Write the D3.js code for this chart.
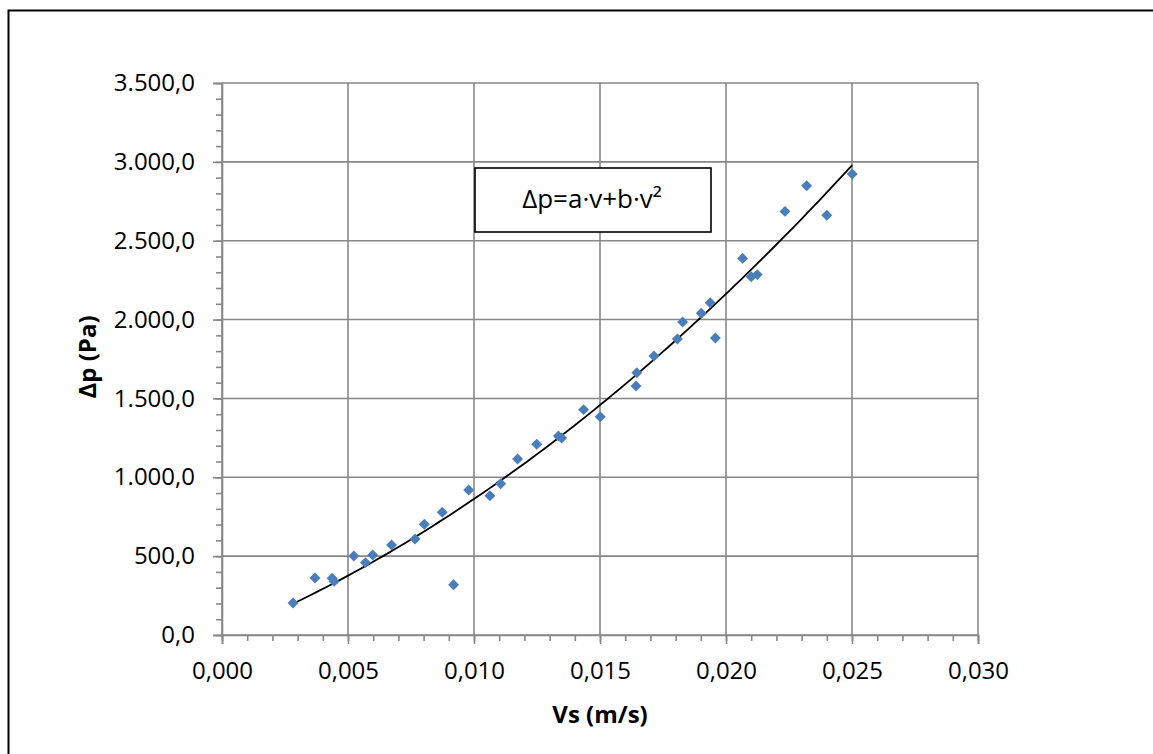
<!DOCTYPE html>
<html>
<head>
<meta charset="utf-8">
<script src="https://cdn.jsdelivr.net/npm/d3@7"></script>
<style>
  body { margin: 0; background: #fff; }
  svg { display: block; }
  text { font-family: "Open Sans", sans-serif; fill: #000; }
</style>
</head>
<body>
<svg id="chart" width="1153" height="754"></svg>
<script>
// measured superficial velocity (m/s) and pressure drop (Pa)
var vs = [0.00282, 0.00369, 0.00437, 0.00445, 0.00523, 0.00569, 0.00598, 0.00673,
          0.00766, 0.00803, 0.00874, 0.00919, 0.00979, 0.01063, 0.01106, 0.01173,
          0.01249, 0.01335, 0.01348, 0.01435, 0.01501, 0.01643, 0.01646, 0.01714,
          0.01807, 0.01828, 0.01902, 0.01937, 0.01958, 0.02066, 0.02100, 0.02124,
          0.02234, 0.02320, 0.02400, 0.02501];
var dp = [203, 361, 360, 340, 501, 459, 507, 571,
          609, 702, 778, 319, 919, 883, 959, 1116,
          1209, 1262, 1249, 1429, 1384, 1579, 1663, 1769,
          1877, 1985, 2040, 2107, 1883, 2388, 2272, 2285,
          2686, 2849, 2661, 2923];

var xTicks = [0, 0.005, 0.010, 0.015, 0.020, 0.025, 0.030];
var yTicks = [0, 500, 1000, 1500, 2000, 2500, 3000, 3500];
var xTitle = "Vs (m/s)";
var yTitle = "\u0394p (Pa)";
var fitLabel = "\u0394p=a\u00b7v+b\u00b7v\u00b2";

var plotL = 222, plotR = 978, plotT = 83, plotB = 635;
var grid = "#878787";

var svg = d3.select("#chart");

// outer chart border
svg.append("rect")
    .attr("x", 8.5).attr("y", 10.5)
    .attr("width", 1160).attr("height", 760)
    .attr("fill", "none").attr("stroke", "#000").attr("stroke-width", 2);

var x = d3.scaleLinear().domain([0, 0.030]).range([plotL, plotR]);
var y = d3.scaleLinear().domain([0, 3500]).range([plotB, plotT]);

var fmtX = function(d) { return d3.format(".3f")(d).replace(".", ","); };
var fmtY = function(d) {
    return d3.format(",.1f")(d).replace(/,/g, " ").replace(".", ",").replace(/ /g, ".");
};

// gridlines
svg.append("g").selectAll("line").data(xTicks).enter().append("line")
    .attr("x1", function(d) { return x(d); }).attr("x2", function(d) { return x(d); })
    .attr("y1", plotT).attr("y2", plotB)
    .attr("stroke", grid).attr("stroke-width", 1.6);
svg.append("g").selectAll("line").data(yTicks).enter().append("line")
    .attr("x1", plotL).attr("x2", plotR)
    .attr("y1", function(d) { return y(d); }).attr("y2", function(d) { return y(d); })
    .attr("stroke", grid).attr("stroke-width", 1.6);

// axes with minor ticks
var xAxis = svg.append("g").attr("transform", "translate(0," + plotB + ")");
xAxis.call(d3.axisBottom(x).tickValues(d3.range(0, 31).map(function(i) { return i / 1000; }))
    .tickSize(6).tickFormat(""));
xAxis.call(function(g) {
    g.select(".domain").remove();
    g.selectAll("line").attr("stroke", grid).attr("stroke-width", 1.6);
});
var xMajor = svg.append("g").attr("transform", "translate(0," + plotB + ")")
    .call(d3.axisBottom(x).tickValues(xTicks).tickSize(9).tickPadding(18).tickFormat(fmtX));
xMajor.select(".domain").attr("stroke", grid).attr("stroke-width", 1.6);
xMajor.selectAll("line").attr("stroke", grid).attr("stroke-width", 1.6);
xMajor.selectAll("text").style("font-size", "24px").attr("fill", "#000");

var yAxis = svg.append("g").attr("transform", "translate(" + plotL + ",0)");
yAxis.call(d3.axisLeft(y).tickValues(d3.range(0, 3501, 100)).tickSize(6).tickFormat(""));
yAxis.call(function(g) {
    g.select(".domain").remove();
    g.selectAll("line").attr("stroke", grid).attr("stroke-width", 1.6);
});
var yMajor = svg.append("g").attr("transform", "translate(" + plotL + ",0)")
    .call(d3.axisLeft(y).tickValues(yTicks).tickSize(9).tickPadding(18).tickFormat(fmtY));
yMajor.select(".domain").attr("stroke", grid).attr("stroke-width", 1.6);
yMajor.selectAll("line").attr("stroke", grid).attr("stroke-width", 1.6);
yMajor.selectAll("text").style("font-size", "24px").attr("fill", "#000");

// trendline p = a*v + b*v^2 (least squares through origin)
var s11 = d3.sum(vs, function(v) { return v * v; });
var s12 = d3.sum(vs, function(v) { return v * v * v; });
var s22 = d3.sum(vs, function(v) { return v * v * v * v; });
var t1 = d3.sum(vs, function(v, i) { return v * dp[i]; });
var t2 = d3.sum(vs, function(v, i) { return v * v * dp[i]; });
var det = s11 * s22 - s12 * s12;
var a = (t1 * s22 - t2 * s12) / det;
var b = (s11 * t2 - s12 * t1) / det;

var vMin = d3.min(vs), vMax = d3.max(vs);
var fitPts = d3.range(0, 101).map(function(i) {
    var v = vMin + (vMax - vMin) * i / 100;
    return [v, a * v + b * v * v];
});

svg.append("path")
    .datum(fitPts)
    .attr("fill", "none").attr("stroke", "#000").attr("stroke-width", 1.8)
    .attr("d", d3.line().x(function(d) { return x(d[0]); }).y(function(d) { return y(d[1]); }));

// data markers (diamonds)
var diamond = d3.symbol().type(d3.symbolSquare).size(60);
svg.append("g").selectAll("path").data(vs).enter().append("path")
    .attr("d", diamond)
    .attr("transform", function(v, i) { return "translate(" + x(v) + "," + y(dp[i]) + ") rotate(45)"; })
    .attr("fill", "#4a7ebb");

// equation label
svg.append("rect")
    .attr("x", 475).attr("y", 168)
    .attr("width", 236).attr("height", 64)
    .attr("fill", "#fff").attr("stroke", "#000").attr("stroke-width", 1.6);
svg.append("text")
    .attr("x", 592).attr("y", 208)
    .attr("text-anchor", "middle")
    .style("font-size", "26px")
    .text(fitLabel);

// axis titles
svg.append("text")
    .attr("x", 600).attr("y", 723)
    .attr("text-anchor", "middle")
    .style("font-size", "24px").style("font-weight", "bold")
    .text(xTitle);
svg.append("text")
    .attr("transform", "translate(96,357) rotate(-90)")
    .attr("text-anchor", "middle")
    .style("font-size", "24px").style("font-weight", "bold")
    .text(yTitle);
</script>
</body>
</html>
